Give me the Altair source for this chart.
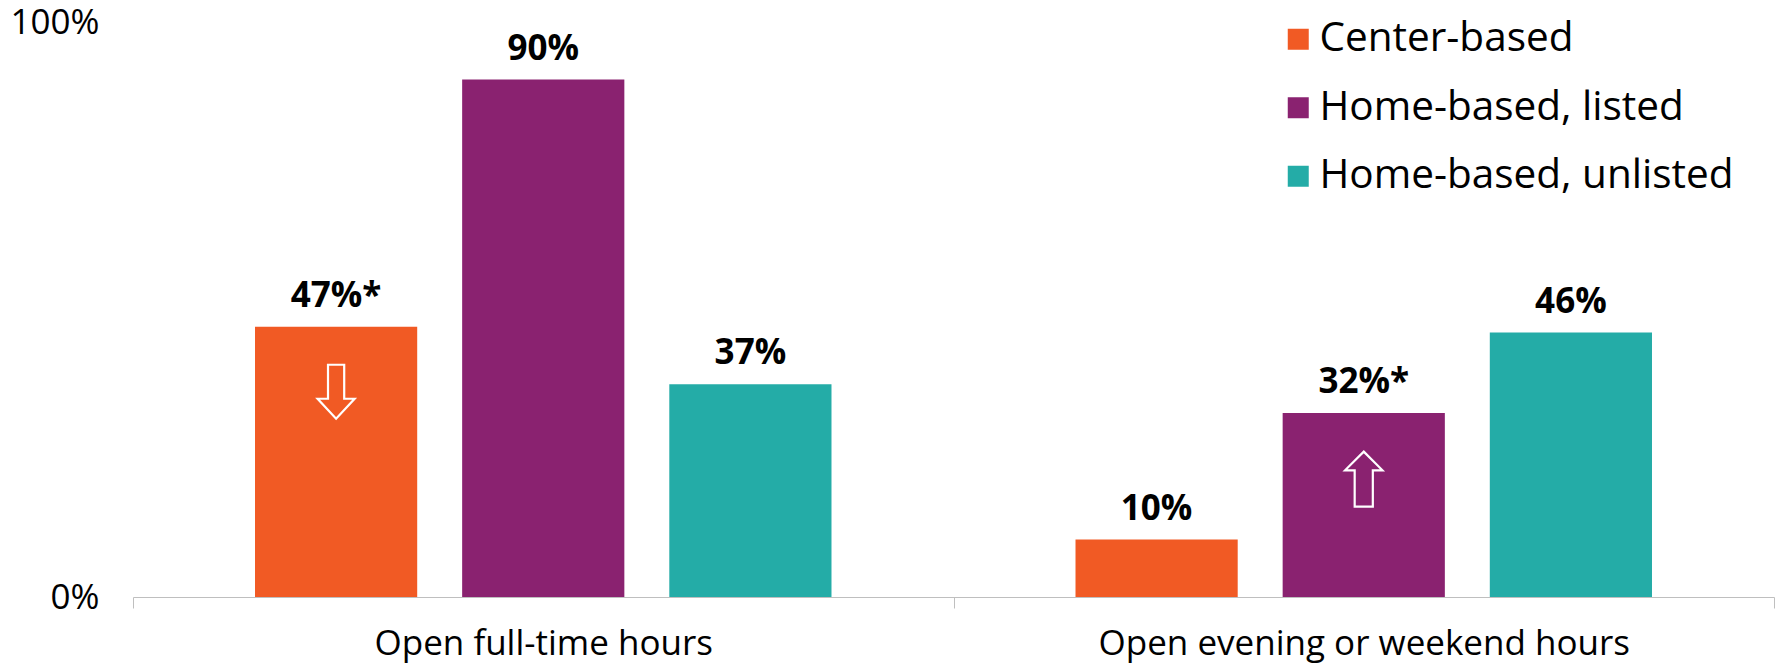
import altair as alt
import pandas as pd

# ---- data ----
categories = ["Open full-time hours", "Open evening or weekend hours"]
series = ["Center-based", "Home-based, listed", "Home-based, unlisted"]
center_based = [0.47, 0.10]
home_listed = [0.90, 0.32]
home_unlisted = [0.37, 0.46]
# significance marker (*) per category, per series
center_sig = [True, False]
listed_sig = [False, True]
unlisted_sig = [False, False]
colors = ["#F15A24", "#8A2270", "#24ACA7"]
y_ticks = [0, 1]

# annotation arrows (direction of difference)
arrow_categories = ["Open full-time hours", "Open evening or weekend hours"]
arrow_series = ["Center-based", "Home-based, listed"]
arrow_direction = ["down", "up"]
arrow_level = [0.357, 0.205]

rows = []
for s, vals, sigs in zip(series, [center_based, home_listed, home_unlisted],
                         [center_sig, listed_sig, unlisted_sig]):
    for c, v, g in zip(categories, vals, sigs):
        rows.append({"category": c, "series": s, "value": v,
                     "label": f"{round(v * 100)}%" + ("*" if g else "")})
df = pd.DataFrame(rows)

arrow_df = pd.DataFrame({"category": arrow_categories, "series": arrow_series,
                         "direction": arrow_direction, "level": arrow_level})

FONT = "Open Sans"

x_enc = alt.X("category:N", sort=categories,
              scale=alt.Scale(domain=categories, paddingInner=0, paddingOuter=0),
              axis=alt.Axis(title=None, labelAngle=0, labelFontSize=35, labelColor="black",
                            labelFont=FONT, domainColor="#BFBFBF", tickColor="#BFBFBF",
                            tickBand="extent", tickSize=11, labelPadding=18, domainWidth=1,
                            tickWidth=1, grid=False, labelLimit=1000))
xo_enc = alt.XOffset("series:N", sort=series,
                     scale=alt.Scale(domain=series, paddingInner=0.217, paddingOuter=0.589))
y_scale = alt.Scale(domain=[0, 1])

bars = alt.Chart(df).mark_bar().encode(
    x=x_enc,
    xOffset=xo_enc,
    y=alt.Y("value:Q", scale=y_scale,
            axis=alt.Axis(values=y_ticks, format=".0%", title=None, grid=False, domain=False,
                          ticks=False, tickSize=0, labelPadding=34, labelFontSize=35,
                          labelColor="black", labelFont=FONT)),
    color=alt.Color("series:N", sort=series,
                    scale=alt.Scale(domain=series, range=colors),
                    legend=alt.Legend(title=None, orient="none", legendX=1145, legendY=-3,
                                      symbolType="square", symbolSize=441, symbolStrokeWidth=0,
                                      symbolOpacity=1, labelFontSize=40.5, labelFont=FONT,
                                      labelColor="black", labelOffset=1, rowPadding=27.5,
                                      padding=0, labelLimit=600)),
)

labels = alt.Chart(df).mark_text(fontWeight="bold", fontSize=35, font=FONT,
                                 baseline="alphabetic", dy=-20, color="black").encode(
    x=x_enc, xOffset=xo_enc, y=alt.Y("value:Q", scale=y_scale), text="label:N")

DOWN = "M -0.3 -1 L 0.3 -1 L 0.3 0.26 L 0.685 0.26 L 0 1 L -0.685 0.26 L -0.3 0.26 Z"
UP = "M 0 -1 L 0.68 -0.32 L 0.33 -0.32 L 0.33 1 L -0.33 1 L -0.33 -0.32 L -0.68 -0.32 Z"

arrow_down = alt.Chart(arrow_df).transform_filter("datum.direction == 'down'").mark_point(
    shape=DOWN, size=2916, filled=False, stroke="white", strokeWidth=2.2, opacity=1
).encode(x=x_enc, xOffset=xo_enc, y=alt.Y("level:Q", scale=y_scale))

arrow_up = alt.Chart(arrow_df).transform_filter("datum.direction == 'up'").mark_point(
    shape=UP, size=3025, filled=False, stroke="white", strokeWidth=2.2, opacity=1
).encode(x=x_enc, xOffset=xo_enc, y=alt.Y("level:Q", scale=y_scale))

chart = alt.layer(bars, labels, arrow_down, arrow_up).properties(
    width=1641, height=575,
    autosize=alt.AutoSizeParams(type="none"),
    padding={"left": 133, "top": 22, "right": 3, "bottom": 67},
    background="white",
).configure_view(stroke=None)

chart.save("out.html", embed_options={"renderer": "svg", "actions": False})
